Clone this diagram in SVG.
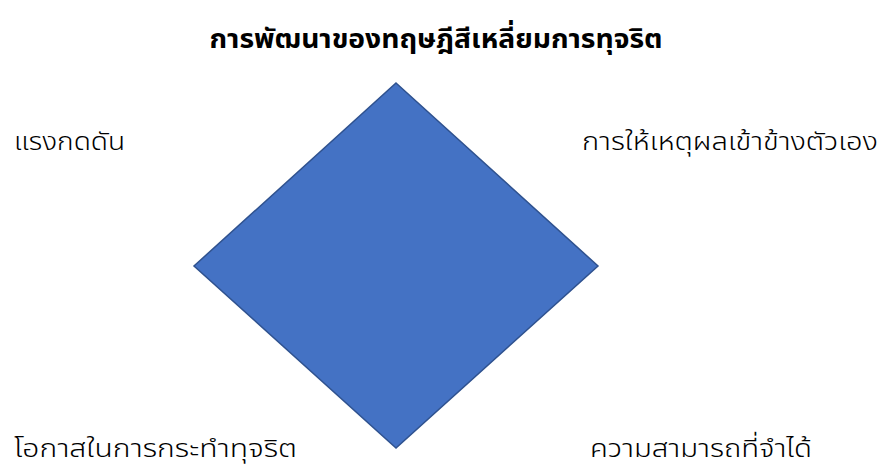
<svg xmlns="http://www.w3.org/2000/svg" width="888" height="469" viewBox="0 0 888 469">
<style>
text{font-family:"Noto Sans Thai","Noto Sans Thai UI","Noto Sans","DejaVu Sans",sans-serif;fill:#000}
.t{font-size:27px;font-weight:bold}
.l{font-size:25.5px;font-weight:300}
.d{fill:#4472C4;stroke:#2F528F;stroke-width:1.5}
</style>
<rect width="888" height="469" fill="#fff"/>
<g id="title"><text class="t" x="436" y="48" text-anchor="middle" textLength="453" lengthAdjust="spacingAndGlyphs">การพัฒนาของทฤษฎีสีเหลี่ยมการทุจริต</text></g>
<g id="diamond"><polygon class="d" points="396,83 598,266 396,448 194,266"/></g>
<g id="pressure"><text class="l" x="14" y="150" textLength="111" lengthAdjust="spacingAndGlyphs">แรงกดดัน</text></g>
<g id="rationalization"><text class="l" x="582" y="150" textLength="296" lengthAdjust="spacingAndGlyphs">การให้เหตุผลเข้าข้างตัวเอง</text></g>
<g id="opportunity"><text class="l" x="14" y="457" textLength="283" lengthAdjust="spacingAndGlyphs">โอกาสในการกระทำทุจริต</text></g>
<g id="capability"><text class="l" x="590" y="457" textLength="222" lengthAdjust="spacingAndGlyphs">ความสามารถที่จำได้</text></g>
<g id="connectors"/>
</svg>
